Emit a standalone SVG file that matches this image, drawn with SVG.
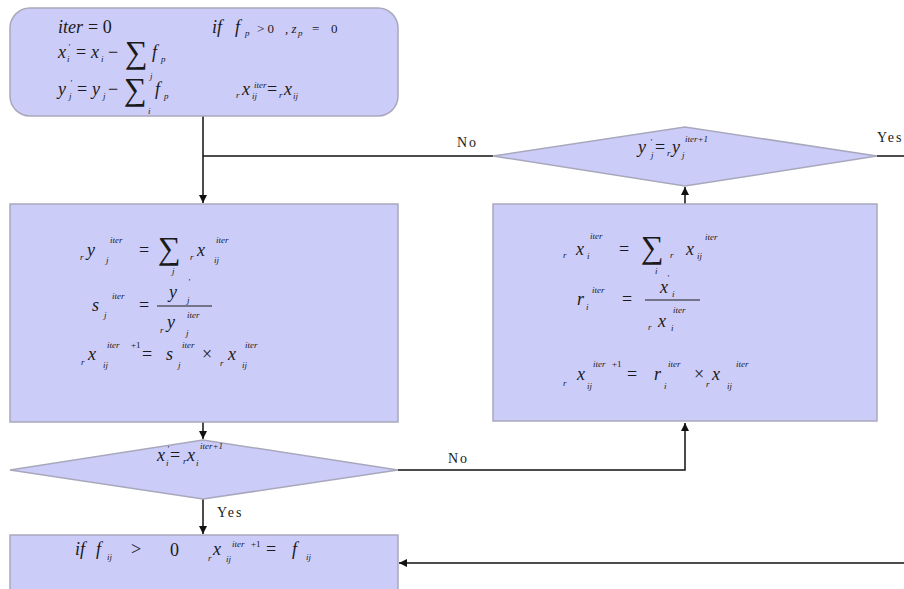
<svg xmlns="http://www.w3.org/2000/svg" width="904" height="589" viewBox="0 0 904 589">
<style>
.box{fill:#ccccf9;stroke:#a8a8bc;stroke-width:1.5}
.ln{stroke:#111;stroke-width:1.5;fill:none}
.m{font-family:"Liberation Serif",serif;font-style:italic;font-size:18px;fill:#1a1a1a}
.n{font-style:normal}
.s{font-size:9px}
.big{font-size:32px;font-style:normal}
.l{font-family:"Liberation Serif",serif;font-size:14px;letter-spacing:2px;fill:#1a1a1a}
</style>
<defs>
<marker id="ah" markerWidth="8" markerHeight="8" refX="8" refY="4" orient="auto" markerUnits="userSpaceOnUse">
<path d="M0,0 L8,4 L0,8 z" fill="#111"/>
</marker>
</defs>
<rect width="904" height="589" fill="#ffffff"/>

<g id="connectors">
<path class="ln" d="M203,116 V203" marker-end="url(#ah)"/>
<path class="ln" d="M493,156 H203"/>
<path class="ln" d="M877,156 H904"/>
<path class="ln" d="M203,422 V439" marker-end="url(#ah)"/>
<path class="ln" d="M398,470 H685 V423" marker-end="url(#ah)"/>
<path class="ln" d="M203,499 V534" marker-end="url(#ah)"/>
<path class="ln" d="M685,204 V187" marker-end="url(#ah)"/>
<path class="ln" d="M904,563 H399" marker-end="url(#ah)"/>
<text class="l" x="457" y="147">No</text>
<text class="l" x="877" y="142">Yes</text>
<text class="l" x="448" y="463">No</text>
<text class="l" x="217" y="517">Yes</text>
</g>

<g id="init">
<rect class="box" x="10" y="8" width="388" height="108" rx="20"/>
<text class="m"><tspan x="58" y="33">iter</tspan><tspan class="n" x="88" y="33">= 0</tspan><tspan x="212" y="33">if</tspan><tspan x="235" y="33">f</tspan><tspan class="s" x="245" y="36">p</tspan><tspan class="n" x="257" y="33" font-size="13">&gt; 0</tspan><tspan x="285" y="33" font-size="13">, z</tspan><tspan class="s" x="298" y="36">p</tspan><tspan class="n" x="312" y="33" font-size="13">=</tspan><tspan class="n" x="331" y="33" font-size="13">0</tspan></text>
<text class="m"><tspan x="58" y="58">x</tspan><tspan class="s" x="68" y="50">'</tspan><tspan class="s" x="67" y="62">i</tspan><tspan class="n" x="76" y="58">=</tspan><tspan x="91" y="58">x</tspan><tspan class="s" x="101" y="62">i</tspan><tspan class="n" x="108" y="58">−</tspan><tspan class="big" x="125" y="63" font-size="27">∑</tspan><tspan x="152" y="58">f</tspan><tspan class="s" x="161" y="62">p</tspan></text>
<text class="m"><tspan x="58" y="95">y</tspan><tspan class="s" x="70" y="86">'</tspan><tspan class="s" x="69" y="99">j</tspan><tspan class="n" x="77" y="95">=</tspan><tspan x="92" y="95">y</tspan><tspan class="s" x="103" y="99">j</tspan><tspan class="n" x="108" y="95">−</tspan><tspan class="s" x="150" y="79">j</tspan><tspan class="big" x="124" y="100" font-size="27">∑</tspan><tspan class="s" x="148" y="114">i</tspan><tspan x="155" y="95">f</tspan><tspan class="s" x="164" y="99">p</tspan><tspan class="s" x="236" y="98">r</tspan><tspan x="242" y="95">x</tspan><tspan class="s" x="252" y="99">ij</tspan><tspan class="s" x="254" y="88">iter</tspan><tspan class="n" x="267" y="95">=</tspan><tspan class="s" x="279" y="98">r</tspan><tspan x="284" y="95">x</tspan><tspan class="s" x="293" y="99">ij</tspan></text>
</g>

<g id="row-scaling">
<rect class="box" x="10" y="204" width="388" height="218"/>
<text class="m" font-size="21"><tspan class="s" x="80" y="260">r</tspan><tspan x="87" y="256">y</tspan><tspan class="s" x="106" y="263">j</tspan><tspan class="s" x="110" y="243">iter</tspan><tspan class="n" x="139" y="256">=</tspan><tspan class="big" x="158" y="259">∑</tspan><tspan class="s" x="172" y="274">j</tspan><tspan class="s" x="190" y="260">r</tspan><tspan x="197" y="256">x</tspan><tspan class="s" x="214" y="263">ij</tspan><tspan class="s" x="216" y="243">iter</tspan></text>
<text class="m" font-size="21"><tspan x="92" y="311">s</tspan><tspan class="s" x="104" y="318">j</tspan><tspan class="s" x="112" y="299">iter</tspan><tspan class="n" x="139" y="311">=</tspan><tspan x="169" y="298">y</tspan><tspan class="s" x="188" y="285">'</tspan><tspan class="s" x="187" y="303">j</tspan><tspan class="s" x="160" y="333">r</tspan><tspan x="167" y="328">y</tspan><tspan class="s" x="186" y="336">j</tspan><tspan class="s" x="187" y="318">iter</tspan></text>
<line x1="157" y1="306" x2="212" y2="306" stroke="#1a1a1a" stroke-width="1.2"/>
<text class="m" font-size="21"><tspan class="s" x="81" y="365">r</tspan><tspan x="88" y="360">x</tspan><tspan class="s" x="103" y="368">ij</tspan><tspan class="s" x="107" y="348">iter</tspan><tspan class="s n" x="131" y="348">+1</tspan><tspan class="n" x="142" y="360">=</tspan><tspan x="166" y="360">s</tspan><tspan class="s" x="178" y="368">j</tspan><tspan class="s" x="182" y="348">iter</tspan><tspan class="n" x="202" y="360">×</tspan><tspan class="s" x="220" y="366">r</tspan><tspan x="228" y="360">x</tspan><tspan class="s" x="242" y="368">ij</tspan><tspan class="s" x="245" y="348">iter</tspan></text>
</g>

<g id="row-check">
<polygon class="box" points="10,470 203,440 398,470 203,499"/>
<text class="m" font-size="16"><tspan x="157" y="461">x</tspan><tspan class="s" x="167" y="452">'</tspan><tspan class="s" x="166" y="466">i</tspan><tspan class="n" x="170" y="461">=</tspan><tspan class="s" x="183" y="464">r</tspan><tspan x="187" y="461">x</tspan><tspan class="s" x="196" y="466">i</tspan><tspan class="s" x="200" y="449">iter+1</tspan></text>
</g>

<g id="col-scaling">
<rect class="box" x="493" y="204" width="384" height="217"/>
<text class="m" font-size="21"><tspan class="s" x="563" y="258">r</tspan><tspan x="576" y="255">x</tspan><tspan class="s" x="587" y="259">i</tspan><tspan class="s" x="590" y="239">iter</tspan><tspan class="n" x="619" y="255">=</tspan><tspan class="big" x="641" y="258">∑</tspan><tspan class="s" x="655" y="274">i</tspan><tspan class="s" x="670" y="258">r</tspan><tspan x="686" y="255">x</tspan><tspan class="s" x="697" y="259">ij</tspan><tspan class="s" x="705" y="240">iter</tspan></text>
<text class="m" font-size="21"><tspan x="577" y="305">r</tspan><tspan class="s" x="586" y="310">i</tspan><tspan class="s" x="592" y="293">iter</tspan><tspan class="n" x="622" y="305">=</tspan><tspan x="660" y="293">x</tspan><tspan class="s" x="667" y="281">'</tspan><tspan class="s" x="672" y="297">i</tspan><tspan class="s" x="648" y="330">r</tspan><tspan x="658" y="327">x</tspan><tspan class="s" x="671" y="331">i</tspan><tspan class="s" x="673" y="313">iter</tspan></text>
<line x1="645" y1="300" x2="700" y2="300" stroke="#1a1a1a" stroke-width="1.2"/>
<text class="m" font-size="21"><tspan class="s" x="563" y="386">r</tspan><tspan x="577" y="380">x</tspan><tspan class="s" x="587" y="389">ij</tspan><tspan class="s" x="593" y="367">iter</tspan><tspan class="s n" x="612" y="367">+1</tspan><tspan class="n" x="627" y="380">=</tspan><tspan x="654" y="380">r</tspan><tspan class="s" x="664" y="389">i</tspan><tspan class="s" x="668" y="367">iter</tspan><tspan class="n" x="694" y="380">×</tspan><tspan class="s" x="706" y="387">r</tspan><tspan x="712" y="380">x</tspan><tspan class="s" x="727" y="389">ij</tspan><tspan class="s" x="736" y="367">iter</tspan></text>
</g>

<g id="col-check">
<polygon class="box" points="493,156 685,127 877,156 685,186"/>
<text class="m" font-size="16"><tspan x="638" y="153">y</tspan><tspan class="s" x="650" y="145">'</tspan><tspan class="s" x="651" y="158">j</tspan><tspan class="n" x="655" y="153">=</tspan><tspan class="s" x="667" y="156">r</tspan><tspan x="672" y="153">y</tspan><tspan class="s" x="682" y="158">j</tspan><tspan class="s" x="685" y="142">iter+1</tspan></text>
</g>

<g id="final">
<rect class="box" x="10" y="535" width="388" height="60"/>
<text class="m" font-size="21"><tspan x="75" y="555">if</tspan><tspan x="96" y="555">f</tspan><tspan class="s" x="107" y="560">ij</tspan><tspan class="n" x="131" y="555">&gt;</tspan><tspan class="n" x="170" y="556">0</tspan><tspan class="s" x="208" y="561">r</tspan><tspan x="213" y="555">x</tspan><tspan class="s" x="226" y="562">ij</tspan><tspan class="s" x="232" y="547">iter</tspan><tspan class="s n" x="251" y="547">+1</tspan><tspan class="n" x="266" y="555">=</tspan><tspan x="292" y="555">f</tspan><tspan class="s" x="306" y="560">ij</tspan></text>
</g>
</svg>
